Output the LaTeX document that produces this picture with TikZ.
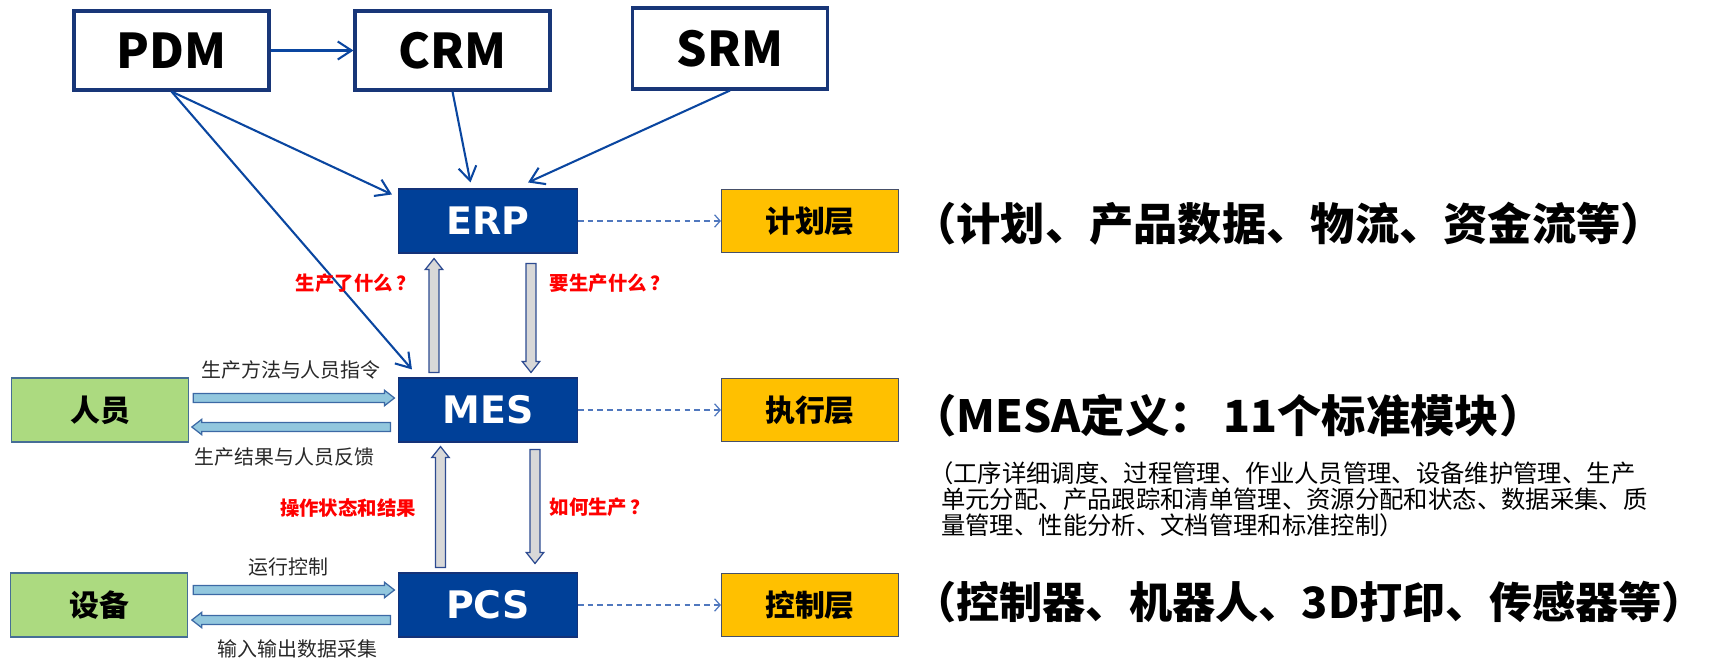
\documentclass[tikz,border=0pt]{standalone}
\usepackage{fontspec}
\setmainfont{Noto Sans CJK SC}
\newfontfamily\wideface{DejaVu Sans}
\usepackage{tikz}
\usetikzlibrary{arrows.meta,calc}
\tikzset{>={Straight Barb[length=10pt,width=13pt]}}
\tikzset{
topbox/.style={shape=rectangle,fill=white,draw={rgb,255:red,24;green,54;blue,120},line width=2.2pt,minimum width=1.95in,minimum height=0.79in,font=\fontsize{34.6}{40}\selectfont\bfseries},
sysbox/.style={shape=rectangle,fill={rgb,255:red,0;green,64;blue,152},draw={rgb,255:red,20;green,50;blue,120},line width=0.8pt,text=white,minimum width=1.79in,minimum height=0.64in,font=\wideface\fontsize{27.4}{32}\selectfont\bfseries},
layerbox/.style={shape=rectangle,fill={rgb,255:red,255;green,192;blue,0},draw={rgb,255:red,70;green,80;blue,105},line width=0.8pt,minimum width=1.77in,minimum height=0.63in,font=\fontsize{21.6}{26}\selectfont\bfseries},
sidebox/.style={shape=rectangle,fill={rgb,255:red,172;green,218;blue,128},draw={rgb,255:red,70;green,110;blue,150},line width=1.2pt,minimum width=1.77in,minimum height=0.64in,font=\fontsize{21.6}{26}\selectfont\bfseries},
link/.style={->,draw={rgb,255:red,10;green,70;blue,160},line width=1.5pt},
dashlink/.style={-{Straight Barb[length=4pt,width=9pt]},draw={rgb,255:red,80;green,120;blue,190},dash pattern=on 4pt off 3pt,line width=0.9pt},
fat/.style args={#1/#2/#3}{to path={let \p1=(\tikztostart), \p2=(\tikztotarget), \n1={veclen(\x2-\x1,\y2-\y1)}, \n2={(\x2-\x1)/\n1}, \n3={(\y2-\y1)/\n1} in
 ({\x1-(\n3)*#1},{\y1+(\n2)*#1}) -- ({\x2-(\n2)*#3-(\n3)*#1},{\y2-(\n3)*#3+(\n2)*#1}) -- ({\x2-(\n2)*#3-(\n3)*#2},{\y2-(\n3)*#3+(\n2)*#2}) -- (\x2,\y2)
 -- ({\x2-(\n2)*#3+(\n3)*#2},{\y2-(\n3)*#3-(\n2)*#2}) -- ({\x2-(\n2)*#3+(\n3)*#1},{\y2-(\n3)*#3-(\n2)*#1}) -- ({\x1+(\n3)*#1},{\y1-(\n2)*#1}) -- cycle}},
fath/.style={fat=3.2/5.6/7.2,fill={rgb,255:red,146;green,199;blue,222},draw={rgb,255:red,60;green,105;blue,165},line width=0.9pt},
fatv/.style={fat=3.6/6.3/7.9,fill={rgb,255:red,216;green,216;blue,216},draw={rgb,255:red,45;green,75;blue,145},line width=0.9pt},
lbl/.style={inner sep=0,text={rgb,255:red,40;green,40;blue,40},font=\fontsize{14.4}{17}\selectfont},
redlbl/.style={inner sep=0,text={rgb,255:red,255;green,0;blue,0},font=\fontsize{14}{17}\selectfont\bfseries},
bigtext/.style={inner sep=0,anchor=west,font=\fontsize{32}{38}\selectfont\bfseries},
smalltext/.style={inner sep=0,anchor=west,align=left,font=\fontsize{17.6}{18.7}\selectfont}
}
\begin{document}
\begin{tikzpicture}
\useasboundingbox (0,0) rectangle (17.16in,-6.61in);

\path (1.715in,-0.505in) node [topbox] (pdm) {PDM};
\path (4.525in,-0.505in) node [topbox] (crm) {CRM};
\path (7.30in,-0.485in) node [topbox,minimum height=0.81in] (srm) {SRM};

\path (4.88in,-2.21in) node [sysbox] (erp) {ERP};
\path (4.88in,-4.10in) node [sysbox] (mes) {MES};
\path (4.88in,-6.05in) node [sysbox] (pcs) {PCS};

\path (8.10in,-2.21in) node [layerbox] (jihua) {计划层};
\path (8.10in,-4.10in) node [layerbox] (zhixing) {执行层};
\path (8.10in,-6.05in) node [layerbox] (kongzhi) {控制层};

\path (1.00in,-4.10in) node [sidebox] (renyuan) {人员};
\path (0.99in,-6.05in) node [sidebox] (shebei) {设备};

% upper systems
\draw [link] (pdm) -- (crm);
\draw [link] (pdm.south) -- ([xshift=-0.06in,yshift=-0.06in]erp.north west);
\draw [link] (pdm.south) -- ([xshift=0.14in,yshift=0.08in]mes.north west);
\draw [link] (crm.south) -- ([xshift=-0.175in,yshift=0.06in]erp.north);
\draw [link] (srm.south) -- ([xshift=-0.50in,yshift=0.06in]erp.north east);

\draw [dashlink] (erp) -- (jihua);
\draw [dashlink] (mes) -- (zhixing);
\draw [dashlink] (pcs) -- (kongzhi);

% vertical flows
\draw [fatv] ([xshift=-0.54in,yshift=0.05in]mes.north) to ([xshift=-0.54in,yshift=-0.05in]erp.south);
\draw [fatv] ([xshift=0.43in,yshift=-0.10in]erp.south) to ([xshift=0.43in,yshift=0.05in]mes.north);
\draw [fatv] ([xshift=-0.475in,yshift=0.05in]pcs.north) to ([xshift=-0.475in,yshift=-0.04in]mes.south);
\draw [fatv] ([xshift=0.47in,yshift=-0.07in]mes.south) to ([xshift=0.47in,yshift=0.09in]pcs.north);

% horizontal flows
\draw [fath] ([xshift=0.04in,yshift=0.12in]renyuan.east) to ([xshift=-0.035in,yshift=0.12in]mes.west);
\draw [fath] ([xshift=-0.075in,yshift=-0.17in]mes.west) to ([xshift=0.025in,yshift=-0.17in]renyuan.east);
\draw [fath] ([xshift=0.05in,yshift=0.15in]shebei.east) to ([xshift=-0.035in,yshift=0.15in]pcs.west);
\draw [fath] ([xshift=-0.075in,yshift=-0.15in]pcs.west) to ([xshift=0.035in,yshift=-0.15in]shebei.east);

\path (3.56in,-2.83in) node [redlbl] {生产了什么\kern0.2em？};
\path (6.10in,-2.83in) node [redlbl] {要生产什么\kern0.2em？};
\path (3.48in,-5.08in) node [redlbl] {操作状态和结果};
\path (6.00in,-5.07in) node [redlbl] {如何生产\kern0.2em？};

\path (2.91in,-3.70in) node [lbl] {生产方法与人员指令};
\path (2.845in,-4.57in) node [lbl] {生产结果与人员反馈};
\path (2.885in,-5.67in) node [lbl] {运行控制};
\path (2.975in,-6.49in) node [lbl] {输入输出数据采集};

\path (9.12in,-2.24in) node [bigtext] {（计划、产品数据、物流、资金流等）};
\path (9.12in,-4.16in) node [bigtext] {（MESA定义： 11个标准模块）};
\path (9.41in,-4.99in) node [smalltext] {\hspace*{-0.5em}（工序详细调度、过程管理、作业人员管理、设备维护管理、生产\\单元分配、产品跟踪和清单管理、资源分配和状态、数据采集、质\\量管理、性能分析、文档管理和标准控制）};
\path (9.13in,-6.02in) node [bigtext,font=\fontsize{31.2}{37}\selectfont\bfseries] {（控制器、机器人、3D打印、传感器等）};

\end{tikzpicture}
\end{document}
